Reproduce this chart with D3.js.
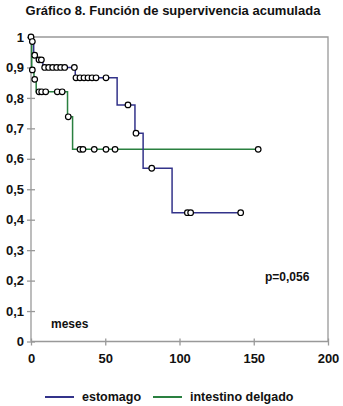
<!DOCTYPE html>
<html lang="es">
<head>
<meta charset="UTF-8">
<title>Función de supervivencia acumulada</title>
<script src="https://d3js.org/d3.v7.min.js"></script>
<style>
    body { margin: 0; background: #fff; }
    text { font-family: "Liberation Sans", Arial, sans-serif; font-weight: bold; fill: #111; }
    .frame { stroke: #999; stroke-width: 1.3; fill: none; }
    .axis path, .axis line { stroke: #999; stroke-width: 1.3; }
    .cens { fill: #fff; stroke: #000; stroke-width: 1.2; }
</style>
</head>
<body>
<svg width="343" height="406"></svg>
<script>
// estomago: step times / survival after the step, censored times
const estTimes = [0, 0.5, 1.8, 3.8, 8, 29.8, 58, 70, 75.5, 95];
const estSurv  = [1, 0.985, 0.94, 0.925, 0.90, 0.866, 0.777, 0.684, 0.569, 0.423];
const estEnd = 141.2;
const estCens = [0, 0.9, 2.5, 5.4, 7, 9.2, 11.9, 14.6, 17.3, 20, 22.7, 29.2,
                 30.3, 33, 35.7, 38.4, 41.1, 43.8, 50.5, 65.3, 70.7, 81.3, 105.3, 107.5, 141.2];

// intestino delgado
const intTimes = [0, 0.5, 2, 3.5, 24.6, 28];
const intSurv  = [1, 0.892, 0.861, 0.82, 0.738, 0.631];
const intEnd = 153;
const intCens = [0.9, 2.5, 5.4, 7.2, 9.9, 17.7, 21, 25.1, 33, 35, 42.6, 50.5, 56.6, 153];

const xTicks = [0, 50, 100, 150, 200];
const yTicks = [0, 0.1, 0.2, 0.3, 0.4, 0.5, 0.6, 0.7, 0.8, 0.9, 1];

const svg = d3.select("svg");
const x = d3.scaleLinear().domain([0, 200]).range([31, 328]);
const y = d3.scaleLinear().domain([0, 1]).range([341.5, 37]);
const fmt = d => d === 0 || d === 1 ? String(d) : d3.format(".1f")(d).replace(".", ",");

svg.append("text").attr("x", 173).attr("y", 15).attr("text-anchor", "middle")
    .style("font-size", "13px").text("Gráfico 8. Función de supervivencia acumulada");

// caja
svg.append("path").attr("class", "frame")
    .attr("d", `M${x(0)},${y(1)}H${x(200)}V${y(0)}`);

svg.append("g").attr("class", "axis")
    .attr("transform", `translate(0,${y(0)})`)
    .call(d3.axisBottom(x).tickValues(xTicks).tickSize(4).tickPadding(8))
    .call(g => g.selectAll(".tick line").attr("y1", -3))
    .call(g => g.select(".domain").attr("d", `M${x(0)},0H${x(200)}`));

svg.append("g").attr("class", "axis")
    .attr("transform", `translate(${x(0)},0)`)
    .call(d3.axisLeft(y).tickValues(yTicks).tickFormat(fmt).tickSize(4).tickPadding(3))
    .call(g => g.selectAll(".tick line").attr("x1", 4))
    .call(g => g.select(".domain").attr("d", `M0,${y(0)}V${y(1)}`));

svg.selectAll(".axis text").attr("fill", "#111").style("font-size", "13px")
    .style("font-family", "'Liberation Sans', Arial, sans-serif").style("font-weight", "bold");

function stepAt(times, surv, t) {
    const i = d3.bisectRight(times, t) - 1;
    return surv[Math.max(0, i)];
}

function drawCurve(times, surv, end, cens, color) {
    const pts = times.map((t, i) => [t, surv[i]]);
    pts.push([end, surv[surv.length - 1]]);
    const line = d3.line().x(d => x(d[0])).y(d => y(d[1])).curve(d3.curveStepAfter);
    svg.append("path").attr("d", line(pts))
        .attr("fill", "none").attr("stroke", color).attr("stroke-width", 1.5);
    svg.append("g").selectAll("circle").data(cens).join("circle")
        .attr("class", "cens")
        .attr("cx", d => x(d)).attr("cy", d => y(stepAt(times, surv, d)))
        .attr("r", 2.8);
}

drawCurve(intTimes, intSurv, intEnd, intCens, "#2a8040");
drawCurve(estTimes, estSurv, estEnd, estCens, "#33338a");

svg.append("text").attr("x", 51).attr("y", 328).style("font-size", "12px").text("meses");
svg.append("text").attr("x", 265).attr("y", 281).style("font-size", "12px").text("p=0,056");

// leyenda
const legend = [["estomago", "#33338a", 45], ["intestino delgado", "#2a8040", 153]];
const lg = svg.append("g").selectAll("g").data(legend).join("g");
lg.append("line").attr("x1", d => d[2]).attr("x2", d => d[2] + 29)
    .attr("y1", 397).attr("y2", 397).attr("stroke", d => d[1]).attr("stroke-width", 2);
lg.append("text").attr("x", d => d[2] + 37).attr("y", 401)
    .style("font-size", "12.5px").text(d => d[0]);
</script>
</body>
</html>
